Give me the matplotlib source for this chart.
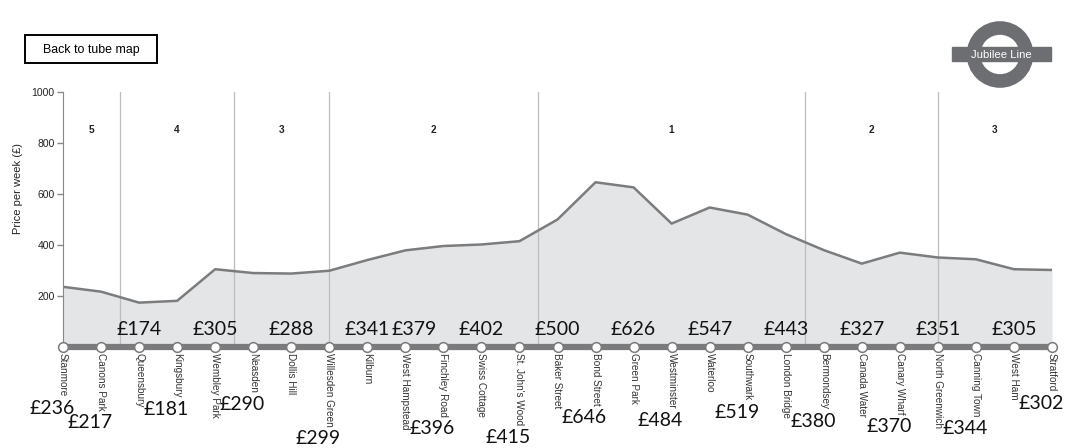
import numpy as np
import matplotlib
matplotlib.use('Agg')
from matplotlib import pyplot as plt
from matplotlib.patches import Rectangle, Circle
from matplotlib.transforms import IdentityTransform

# datos de la linea Jubilee
stations = ['Stanmore', 'Canons Park', 'Queensbury', 'Kingsbury', 'Wembley Park',
            'Neasden', 'Dollis Hill', 'Willesden Green', 'Kilburn', 'West Hampstead',
            'Finchley Road', 'Swiss Cottage', "St. John's Wood", 'Baker Street',
            'Bond Street', 'Green Park', 'Westminster', 'Waterloo', 'Southwark',
            'London Bridge', 'Bermondsey', 'Canada Water', 'Canary Wharf',
            'North Greenwich', 'Canning Town', 'West Ham', 'Stratford']
prices = [236, 217, 174, 181, 305, 290, 288, 299, 341, 379, 396, 402, 415, 500,
          646, 626, 484, 547, 519, 443, 380, 327, 370, 351, 344, 305, 302]
label_above = [False, False, True, False, True, False, True, False, True, True,
               False, True, False, True, False, True, False, True, False, True,
               False, True, False, True, False, True, False]

zone_names = ['5', '4', '3', '2', '1', '2', '3']
zone_label_x = [0.75, 3, 5.75, 9.75, 16, 21.25, 24.5]
zone_breaks = [1.5, 4.5, 7, 12.5, 19.5, 23]

sans = ['Liberation Sans', 'DejaVu Sans']
big = ['Lato', 'DejaVu Sans']
LINE = '#6d6e71'

fig = plt.figure(figsize=(10.8, 4.48), dpi=100)
W, H = 1080, 448

# ejes principales en pixeles
ax = fig.add_axes([63 / W, (H - 347) / H, (1052 - 63) / W, (347 - 92) / H])
x = np.arange(len(stations))
ax.fill_between(x, prices, 0, color='#e4e5e6', lw=0, zorder=1)
ax.plot(x, prices, color='#7b7c7e', lw=1.8, zorder=2)

for b in zone_breaks:
    ax.plot([b, b], [0, 1000], color='#bdbdbd', lw=0.9, zorder=1.5)
for zx, zn in zip(zone_label_x, zone_names):
    ax.text(zx, 850, zn, ha='center', va='center', fontsize=7.3, fontweight='bold',
            family=sans, color='#222222')

# vía y estaciones
ax.plot([0, 26], [0, 0], color='#7a7a7c', lw=4.5, solid_capstyle='butt',
        clip_on=False, zorder=3)
ax.plot(x, np.zeros(len(x)), 'o', ms=7, mfc='white', mec='#7a7a7c', mew=1.1,
        clip_on=False, zorder=4)

name_texts = []
for i, s in enumerate(stations):
    t = ax.annotate(s, xy=(i, 0), xytext=(0, -4), textcoords='offset points',
                    rotation=270, ha='center', va='top', fontsize=7.2,
                    family=sans, color='#333333', annotation_clip=False)
    name_texts.append(t)

above_texts = []
for i, (p, up) in enumerate(zip(prices, label_above)):
    if up:
        t = ax.annotate(f'£{p}', xy=(i, 0), xytext=(0, 9), textcoords='offset points',
                        ha='center', va='baseline', fontsize=14, family=big,
                        color='#111111', zorder=5)
        above_texts.append(t)

ax.set_xlim(0, 26)
ax.set_ylim(0, 1000)
ax.set_xticks([])
ax.set_yticks([200, 400, 600, 800, 1000])
ax.tick_params(axis='y', length=4, width=1, color='#888888', labelsize=7.5,
               labelcolor='#222222', pad=2)
for lbl in ax.get_yticklabels():
    lbl.set_family(sans)
for side in ['top', 'right', 'bottom']:
    ax.spines[side].set_visible(False)
ax.spines['left'].set_color('#888888')
ax.spines['left'].set_bounds(0, 1000)
ax.set_facecolor('none')
fig.text(18 / W, 1 - 188 / H, 'Price per week (£)', rotation=90, ha='center',
         va='center', fontsize=8, family=sans, color='#222222')

# boton y logo en coordenadas de pixel
ov = fig.add_axes([0, 0, 1, 1], zorder=-1)
ov.set_xlim(0, W)
ov.set_ylim(H, 0)
ov.axis('off')
ov.add_patch(Rectangle((25, 35), 132, 28, fill=False, ec='black', lw=1.4))
ov.text(91, 49.5, 'Back to tube map', ha='center', va='center', fontsize=8.9,
        family=sans, color='black')
ov.add_patch(Circle((1000, 54.5), 26.5, fill=False, ec=LINE, lw=9.8))
ov.add_patch(Rectangle((952, 47.5), 99, 14, color=LINE))
ov.text(1001, 55, 'Jubilee Line', ha='center', va='center', fontsize=8.2,
        family=sans, color='white')

fig.canvas.draw()
r = fig.canvas.get_renderer()

# separar etiquetas de arriba que se pisan
prev_x1 = -1e9
for t in above_texts:
    bb = t.get_window_extent(r)
    if bb.x0 < prev_x1 + 2:
        dx = prev_x1 + 2 - bb.x0
        ox, oy = t.xyann
        t.xyann = (ox + dx * 72 / fig.dpi, oy)
        prev_x1 = bb.x1 + dx
    else:
        prev_x1 = bb.x1

# precios debajo del nombre de la estacion
for i, (p, up) in enumerate(zip(prices, label_above)):
    if up:
        continue
    bb = name_texts[i].get_window_extent(r)
    px = ax.transData.transform((i, 0))[0]
    fig.text(px - 11, bb.y0 - 4, f'£{p}', transform=IdentityTransform(),
             ha='center', va='top', fontsize=14, family=big, color='#111111')

fig.savefig('out.png', dpi=100, facecolor='white')
